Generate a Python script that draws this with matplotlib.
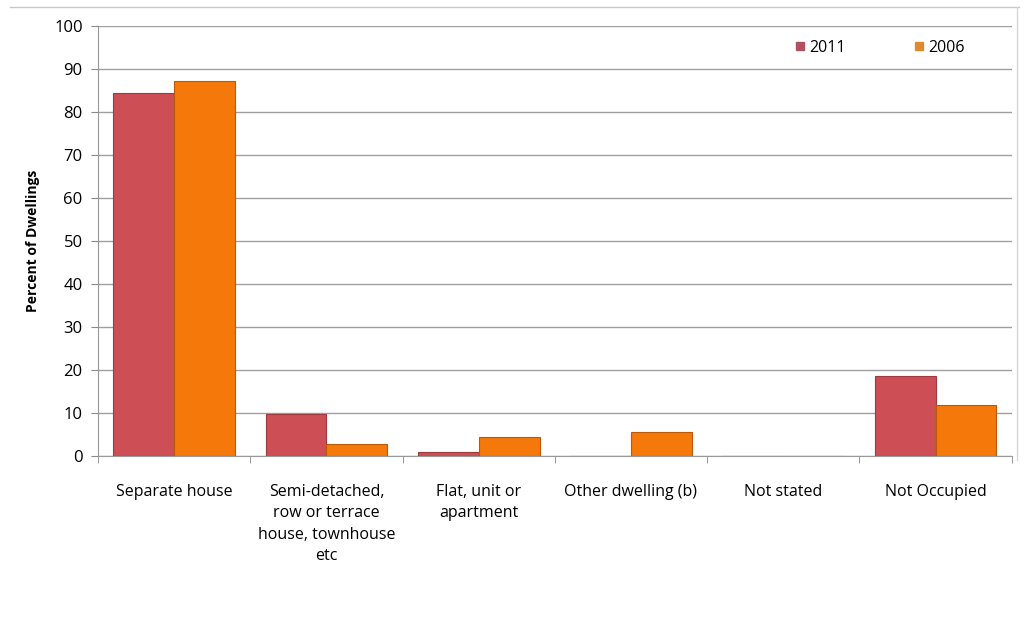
import numpy as np
import matplotlib.pyplot as plt
from matplotlib.lines import Line2D

# dwelling structure, percent of dwellings
categories = ['Separate house', 'Semi-detached,\nrow or terrace\nhouse, townhouse\netc',
              'Flat, unit or\napartment', 'Other dwelling (b)', 'Not stated', 'Not Occupied']
pct_2011 = [84.4, 9.8, 1.0, 0.1, 0.1, 18.6]
pct_2006 = [87.2, 2.8, 4.4, 5.6, 0.0, 11.9]
yticks = list(range(0, 101, 10))

plt.rcParams['font.family'] = ['Open Sans', 'DejaVu Sans']

fig = plt.figure(figsize=(10.24, 6.21), dpi=100)
ax = fig.add_axes([0.0957, 0.2657, 0.8923, 0.6923])

x = np.arange(len(categories))
w = 0.4
ax.bar(x - w/2, pct_2011, w, color='#cd4f55', edgecolor='#9c3a3e', linewidth=0.8, label='2011', zorder=3)
ax.bar(x + w/2, pct_2006, w, color='#f5780a', edgecolor='#b85a08', linewidth=0.8, label='2006', zorder=3)

ax.set_xlim(-0.5, len(categories) - 0.5)
ax.set_ylim(0, 100)
ax.set_yticks(yticks)
ax.tick_params(axis='y', labelsize=12, length=5, color='#888888', pad=6)
ax.set_xticks(x)
ax.set_xticklabels(categories, fontsize=11.5, linespacing=1.45, va='top')
ax.tick_params(axis='x', which='major', length=0, pad=20)
ax.set_xticks(np.arange(len(categories) + 1) - 0.5, minor=True)
ax.tick_params(axis='x', which='minor', length=5, color='#888888')
ax.yaxis.grid(True, color='#a0a0a0', linewidth=1.0, zorder=0)
for s in ['top', 'right']:
    ax.spines[s].set_visible(False)
for s in ['left', 'bottom']:
    ax.spines[s].set_color('#999999')
ax.set_ylabel('Percent of Dwellings', fontsize=10, fontweight='bold', labelpad=10)

handles = [Line2D([], [], marker='s', linestyle='none', markersize=6, color='#b05060'),
           Line2D([], [], marker='s', linestyle='none', markersize=6, color='#e08a30')]
ax.legend(handles, ['2011', '2006'], loc='center', bbox_to_anchor=(0.855, 0.95),
          ncol=2, frameon=False, fontsize=11.5, handletextpad=0.2, columnspacing=4.2,
          handlelength=0.8)

# chart frame lines
fig.add_artist(Line2D([0.01, 0.995], [0.989, 0.989], color='#c8c8c8', linewidth=1))
fig.add_artist(Line2D([0.993, 0.993], [0.26, 0.989], color='#d8d8d8', linewidth=1))

fig.savefig('out.png', dpi=100)
